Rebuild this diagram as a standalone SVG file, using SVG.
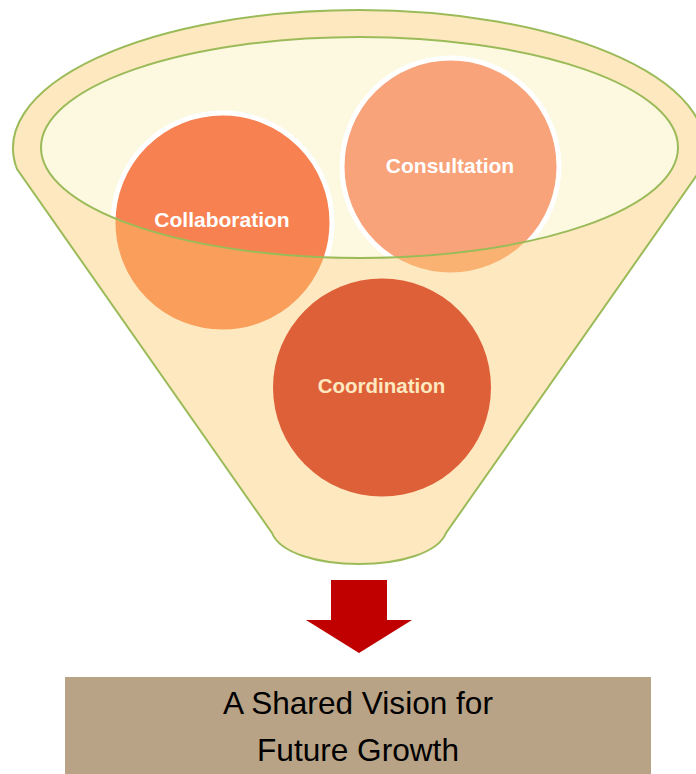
<svg xmlns="http://www.w3.org/2000/svg" width="696" height="774" viewBox="0 0 696 774">
  <style>
    .outline { fill: none; stroke: #9BBB59; stroke-width: 2; }
    .bubble { stroke: #FFFFFF; stroke-width: 5; }
    .blabel { font-family: "Liberation Sans", Arial, sans-serif; font-weight: bold; text-anchor: middle; fill: #FFFFFF; }
    .result { font-family: "Liberation Sans", Arial, sans-serif; font-size: 31.6px; text-anchor: middle; fill: #000000; }
  </style>
  <defs>
    <path id="funnelShape" d="M17,169 A346,138 0 1 1 701,169 L446,533 C438,553 400,564 359,564 C318,564 280,553 272,533 Z"/>
    <path id="innerEllipse" d="M41,147.5 A318.5,110.5 0 1 0 678,147.5 A318.5,110.5 0 1 0 41,147.5 Z"/>
  </defs>
  <rect width="696" height="774" fill="#FFFFFF"/>

  <g id="funnel">
    <use href="#innerEllipse" fill="#FCF9E0"/>
  </g>

  <g id="collaboration">
    <circle class="bubble" cx="222.5" cy="222.5" r="109.5" fill="#F78151"/>
    <text class="blabel" x="222" y="227" font-size="21">Collaboration</text>
  </g>

  <g id="consultation">
    <circle class="bubble" cx="450.5" cy="166.5" r="108.5" fill="#F9A37A"/>
    <text class="blabel" x="450" y="173" font-size="21">Consultation</text>
  </g>

  <g id="funnel-front">
    <path d="M17,169 A346,138 0 1 1 701,169 L446,533 C438,553 400,564 359,564 C318,564 280,553 272,533 Z M41,147.5 A318.5,110.5 0 1 0 678,147.5 A318.5,110.5 0 1 0 41,147.5 Z" fill="#FCC869" fill-opacity="0.42" fill-rule="evenodd"/>
    <use href="#innerEllipse" class="outline"/>
    <use href="#funnelShape" class="outline"/>
  </g>

  <g id="coordination">
    <circle cx="382" cy="387.5" r="109" fill="#DE6039"/>
    <text class="blabel" x="381.5" y="393" font-size="20.5" style="fill:#FEE8C0">Coordination</text>
  </g>

  <g id="connectors">
    <polygon points="331,580 387,580 387,620 412,620 359,653 306,620 331,620" fill="#C00000"/>
  </g>

  <g id="shared-vision">
    <rect x="65" y="677" width="586" height="100" fill="#B8A386"/>
    <text class="result" x="358" y="714">A Shared Vision for</text>
    <text class="result" x="358" y="761">Future Growth</text>
  </g>
</svg>
